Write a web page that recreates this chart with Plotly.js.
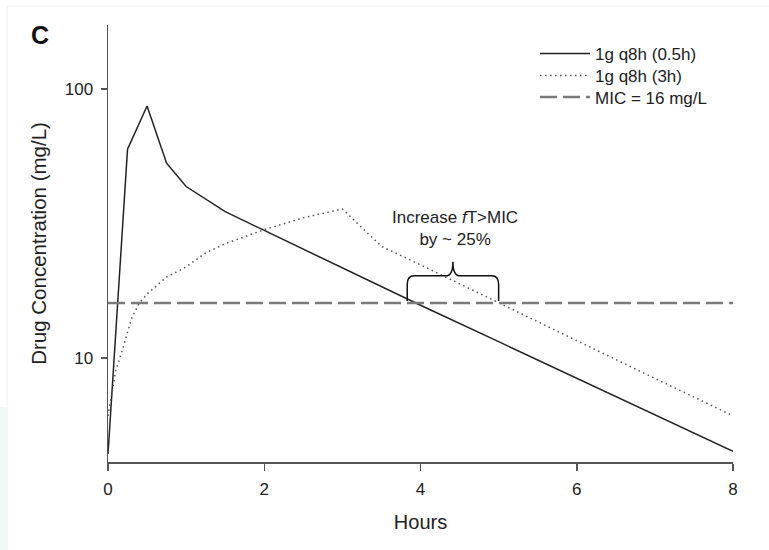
<!DOCTYPE html>
<html>
<head>
<meta charset="utf-8">
<script src="https://cdn.plot.ly/plotly-3.0.1.min.js"></script>
<style>html,body{margin:0;padding:0;background:#fff;}#chart{width:769px;height:550px;}</style>
</head>
<body>
<div id="chart"></div>
<script>
// ---- data (hours, mg/L) ----
var shortInfHours = [0, 0.25, 0.5, 0.75, 1, 1.25, 1.5, 2, 3, 4, 5, 6, 7, 8];
var shortInfConc  = [4.4, 59.7, 86.5, 53, 43.4, 39, 35, 29.8, 21.6, 15.7, 11.5, 8.4, 6.15, 4.5];
var longInfHours  = [0, 0.1, 0.2, 0.3, 0.4, 0.5, 0.75, 1, 1.25, 1.5, 2, 2.5, 3, 3.25, 3.5, 4, 5, 6, 7, 8];
var longInfConc   = [6.1, 9, 11.1, 14, 16, 17.3, 20, 21.8, 24.6, 26.6, 30, 33.2, 35.8, 30.6, 26, 22.2, 16.1, 11.6, 8.4, 6.1];
var micHours = [0, 8];
var micConc  = [16, 16];
var seriesNames = ['1g q8h (0.5h)', '1g q8h (3h)', 'MIC = 16 mg/L'];
var xTicks = [0, 2, 4, 6, 8];
var yTicks = [10, 100];
var yTickText = ['10', '100'];
// annotation brace (hours / mg/L)
var braceX = [3.83, 5.0];
var braceConc = [16.3, 20.2, 22.8]; // base, shoulder, tip
var noteX = 4.44, noteConc = 30.2;

var yRange = [0.6134, 2.2379];
function toPaper(v){ return (Math.log10(v) - yRange[0]) / (yRange[1] - yRange[0]); }

var xl = braceX[0], xr = braceX[1], xm = (xl + xr) / 2, r = 0.09;
var yb = toPaper(braceConc[0]), ys = toPaper(braceConc[1]), yt = toPaper(braceConc[2]);
var yc = ys - 0.02;
var bracePath = 'M' + xl + ',' + yb + ' L' + xl + ',' + yc +
  ' Q' + xl + ',' + ys + ' ' + (xl + r) + ',' + ys +
  ' L' + (xm - r) + ',' + ys +
  ' Q' + xm + ',' + ys + ' ' + xm + ',' + yt +
  ' Q' + xm + ',' + ys + ' ' + (xm + r) + ',' + ys +
  ' L' + (xr - r) + ',' + ys +
  ' Q' + xr + ',' + ys + ' ' + xr + ',' + yc +
  ' L' + xr + ',' + yb;

var font = 'Liberation Sans, Arial, sans-serif';

var traces = [
  {x: shortInfHours, y: shortInfConc, name: seriesNames[0], type: 'scatter', mode: 'lines',
   line: {color: '#222', width: 1.5}, legend: 'legend'},
  {x: longInfHours, y: longInfConc, name: seriesNames[1], type: 'scatter', mode: 'lines',
   line: {color: '#555', width: 1.5, dash: '1.5px,3.5px'}, legend: 'legend2'},
  {x: micHours, y: micConc, name: seriesNames[2], type: 'scatter', mode: 'lines',
   line: {color: '#7a7a7a', width: 2.5, dash: '17px,6px'}, legend: 'legend3'}
];

function legendAt(topPx){
  return {x: (535 - 108)/625, xanchor: 'left', y: (462 - topPx)/437, yanchor: 'top',
          bgcolor: 'rgba(0,0,0,0)', font: {family: font, size: 17, color: '#222'}, itemwidth: 50};
}

var layout = {
  width: 769, height: 550,
  margin: {l: 108, r: 36, t: 25, b: 88},
  paper_bgcolor: '#fff', plot_bgcolor: '#fff',
  font: {family: font, color: '#222', size: 17},
  title: {text: '<b>C</b>', font: {family: font, size: 25, color: '#111'},
          x: 31/769, xanchor: 'left', xref: 'container', y: 1 - 35/550, yanchor: 'middle', yref: 'container'},
  showlegend: true,
  legend: legendAt(36),
  legend2: legendAt(58),
  legend3: legendAt(79.5),
  xaxis: {range: [0, 8], tickvals: xTicks, ticks: 'outside', ticklen: 7, tickwidth: 1.5, tickcolor: '#555',
          showline: true, linecolor: '#555', linewidth: 1.5, showgrid: false, zeroline: false,
          tickfont: {family: font, size: 17, color: '#222'}, ticklabelstandoff: 4,
          title: {text: 'Hours', font: {family: font, size: 20, color: '#222'}, standoff: 17}},
  yaxis: {type: 'log', range: yRange, tickvals: yTicks, ticktext: yTickText, ticks: 'outside', ticklen: 6,
          tickwidth: 1.5, tickcolor: '#555', showline: true, linecolor: '#555', linewidth: 1.5,
          showgrid: false, zeroline: false, tickfont: {family: font, size: 17, color: '#222'},
          ticklabelstandoff: 4,
          title: {text: 'Drug Concentration (mg/L)', font: {family: font, size: 20.5, color: '#222'}, standoff: 12}},
  shapes: [
    {type: 'path', xref: 'x', yref: 'paper', path: bracePath, line: {color: '#111', width: 1.5}},
    {type: 'line', xref: 'paper', yref: 'paper', x0: (7-108)/625, x1: (769-108)/625, y0: (462-6)/437, y1: (462-6)/437,
     line: {color: '#f0f0f0', width: 1}, layer: 'below'},
    {type: 'line', xref: 'paper', yref: 'paper', x0: (7-108)/625, x1: (7-108)/625, y0: (462-6)/437, y1: (462-407)/437,
     line: {color: '#f0f0f0', width: 1}, layer: 'below'},
    {type: 'rect', xref: 'paper', yref: 'paper', x0: (0-108)/625, x1: (8-108)/625, y0: (462-407)/437, y1: (462-550)/437,
     fillcolor: '#eef8f5', line: {width: 0}, layer: 'below'}
  ],
  annotations: [
    {x: noteX, y: Math.log10(noteConc), xref: 'x', yref: 'y', showarrow: false,
     text: 'Increase <i>f</i>T&gt;MIC<br>by ~ 25%', align: 'center',
     font: {family: font, size: 17, color: '#222'}}
  ]
};

Plotly.newPlot('chart', traces, layout, {displayModeBar: false, staticPlot: true});
</script>
</body>
</html>
